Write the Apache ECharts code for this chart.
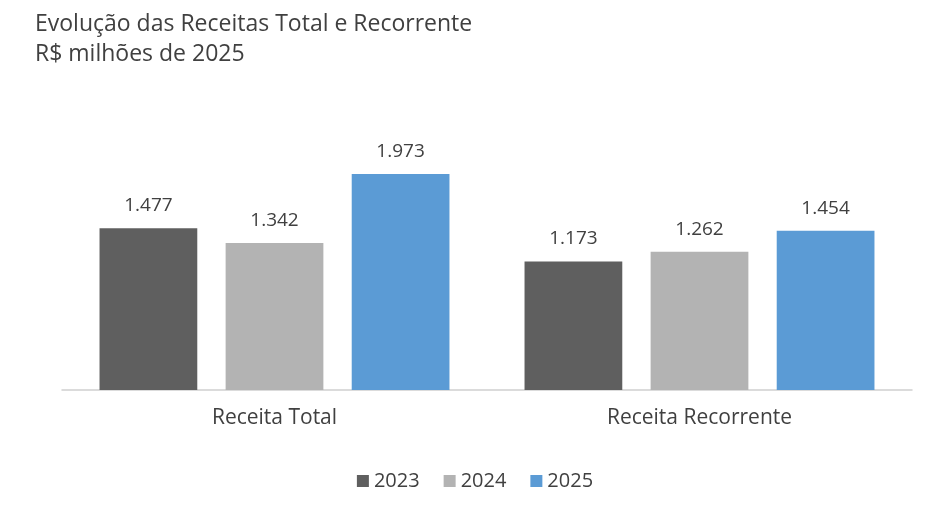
<!DOCTYPE html>
<html><head><meta charset="utf-8">
<script src="https://cdn.jsdelivr.net/npm/echarts@6/dist/echarts.min.js"></script>
<style>html,body{margin:0;padding:0;background:#fff}#c{width:950px;height:508px}</style>
</head><body><div id="c"></div>
<script>
const categories = ["Receita Total", "Receita Recorrente"];
const years = ["2023", "2024", "2025"];
const v2023 = [1477, 1173];
const v2024 = [1342, 1262];
const v2025 = [1973, 1454];
const colors = ["#5f5f5f", "#b3b3b3", "#5b9bd5"];
const fmt = v => v.toLocaleString('de-DE');
const F = "Open Sans";
const chart = echarts.init(document.getElementById('c'));
chart.setOption({
  animation: false,
  title: {text: "Evolução das Receitas Total e Recorrente\nR$ milhões de 2025", left: 30, top: 4,
    textStyle: {fontFamily: F, fontSize: 23, fontWeight: "normal", color: "#404040", lineHeight: 30}},
  legend: {bottom: 12, left: "center", itemWidth: 12, itemHeight: 12, itemGap: 24, icon: "rect",
    textStyle: {fontFamily: F, fontSize: 20, color: "#404040"}},
  grid: {left: 62, right: 38, top: 171, bottom: 118},
  xAxis: {type: "category", data: categories,
    axisLine: {lineStyle: {color: "#d0d0d0", width: 1.5}}, axisTick: {show: false},
    axisLabel: {fontFamily: F, fontSize: 21, color: "#404040", margin: 18}},
  yAxis: {type: "value", min: 0, max: 2000, show: false},
  series: [v2023, v2024, v2025].map((d, i) => ({
    name: years[i], type: "bar", data: d, barWidth: "23%", barGap: "29%",
    itemStyle: {color: colors[i]},
    label: {show: true, position: "top", distance: 13, formatter: p => fmt(p.value),
      fontFamily: F, fontSize: 19, color: "#404040"}
  }))
});
</script></body></html>
